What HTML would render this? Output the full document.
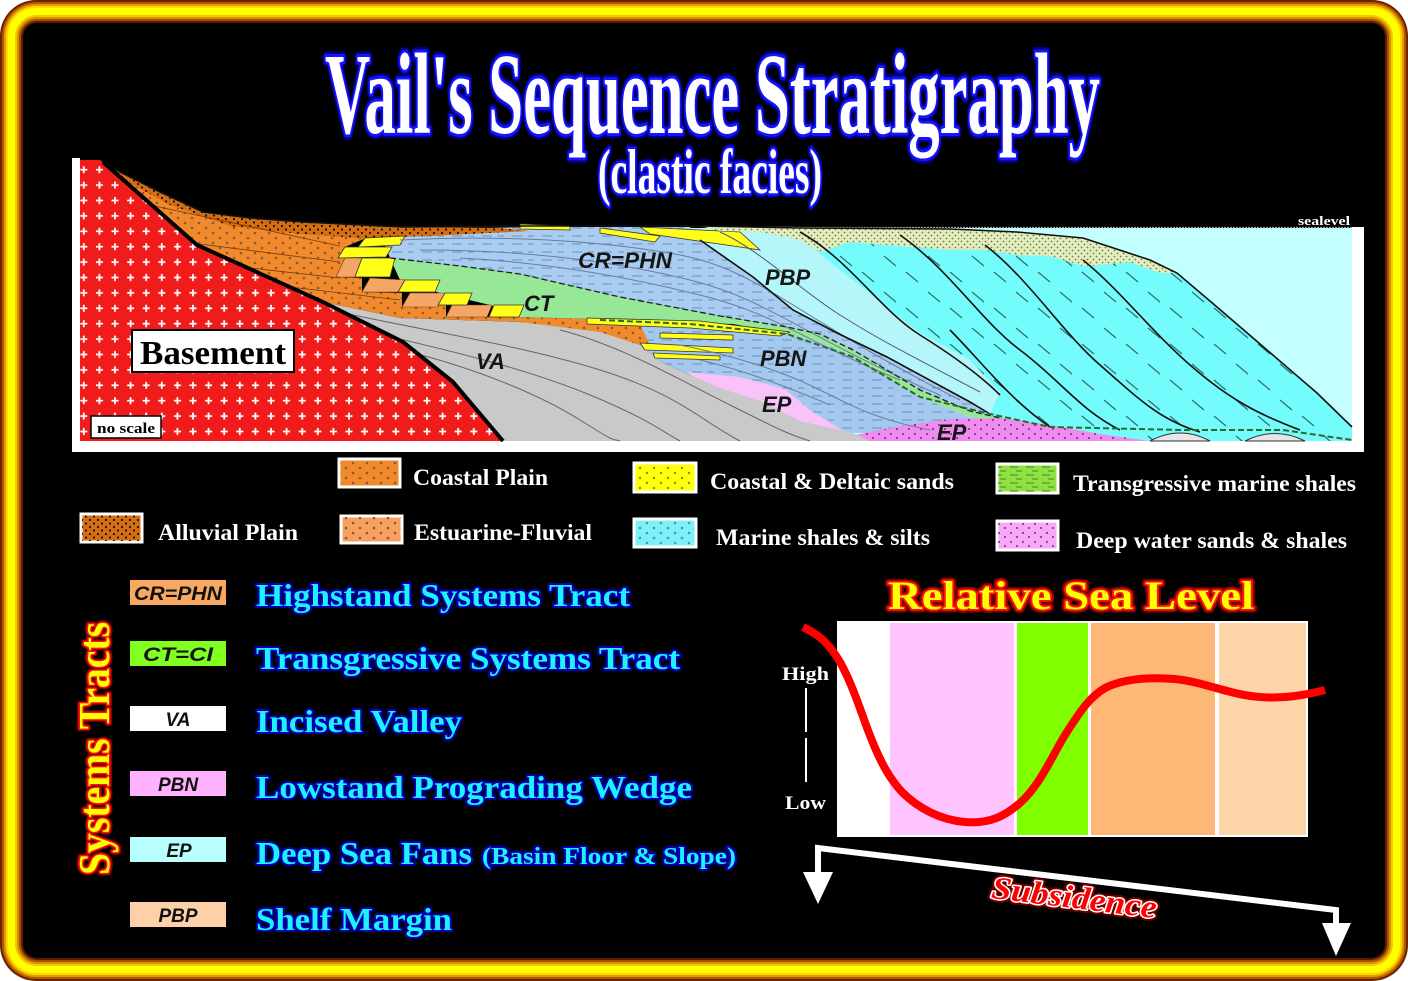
<!DOCTYPE html>
<html><head><meta charset="utf-8">
<style>
html,body{margin:0;padding:0;background:#fff;width:1408px;height:981px;overflow:hidden}
svg{display:block}
</style></head><body>
<svg width="1408" height="981" viewBox="0 0 1408 981" xmlns="http://www.w3.org/2000/svg">
<defs>
<pattern id="plus" patternUnits="userSpaceOnUse" x="76" y="162" width="15.6" height="15.4">
 <path d="M7.8 4.2v7M4.3 7.7h7" stroke="#fff" stroke-width="1.8"/>
</pattern>
<pattern id="dk" patternUnits="userSpaceOnUse" width="8" height="7">
 <circle cx="2" cy="2" r="1.1" fill="#201000"/><circle cx="6" cy="5.5" r="1.1" fill="#201000"/>
</pattern>
<pattern id="dg" patternUnits="userSpaceOnUse" width="14" height="10">
 <circle cx="3" cy="3" r="1.3" fill="#8a5a30"/><circle cx="10" cy="8" r="1.3" fill="#8a5a30"/>
</pattern>
<pattern id="sd" patternUnits="userSpaceOnUse" width="6" height="6">
 <circle cx="1.5" cy="1.5" r="0.9" fill="#707850"/><circle cx="4.5" cy="4.5" r="0.9" fill="#707850"/>
</pattern>
<pattern id="cd" patternUnits="userSpaceOnUse" width="44" height="36">
 <path d="M4 4l12 10M26 20l12 10" stroke="#2d7070" stroke-width="1.2"/>
</pattern>
<pattern id="bl" patternUnits="userSpaceOnUse" width="30" height="8">
 <path d="M2 4h10M18 4h6" stroke="#6f8fb0" stroke-width="1"/>
</pattern>
<pattern id="gd" patternUnits="userSpaceOnUse" width="16" height="8">
 <path d="M2 3h8M8 7h6" stroke="#4a9a30" stroke-width="1.2"/>
</pattern>
<pattern id="pd" patternUnits="userSpaceOnUse" width="12" height="9">
 <circle cx="3" cy="2" r="1" fill="#6a306a"/><circle cx="9" cy="6" r="1" fill="#6a306a"/>
</pattern>
<pattern id="yd" patternUnits="userSpaceOnUse" width="14" height="10">
 <circle cx="3" cy="3" r="1.2" fill="#909000"/><circle cx="10" cy="8" r="1.2" fill="#909000"/>
</pattern>
<pattern id="cyd" patternUnits="userSpaceOnUse" width="14" height="10">
 <circle cx="3" cy="3" r="1.3" fill="#40a0a8"/><circle cx="10" cy="8" r="1.3" fill="#40a0a8"/>
</pattern>
</defs>

<!-- frame -->
<rect x="0" y="0" width="1408" height="981" rx="36" fill="#6a2400"/>
<rect x="2" y="2" width="1404" height="977" rx="34" fill="#b45800"/>
<rect x="4" y="4" width="1400" height="973" rx="32" fill="#e09c00"/>
<rect x="6" y="6" width="1396" height="969" rx="30" fill="#ffd800"/>
<rect x="8" y="8" width="1392" height="965" rx="28" fill="#ffff00"/>
<rect x="15" y="15" width="1378" height="951" rx="22" fill="#f0c800"/>
<rect x="17" y="17" width="1374" height="947" rx="20" fill="#d89000"/>
<rect x="19" y="19" width="1370" height="943" rx="18" fill="#a85000"/>
<rect x="21" y="21" width="1366" height="939" rx="16" fill="#5a1c00"/>
<rect x="23" y="23" width="1362" height="935" rx="14" fill="#000"/>

<!-- title -->
<g font-family="'Liberation Serif', serif" font-weight="bold">
<text x="325" y="133" font-size="115" textLength="775" lengthAdjust="spacingAndGlyphs" fill="#000080" stroke="#000080" stroke-width="11" stroke-linejoin="round">Vail's Sequence Stratigraphy</text>
<text x="325" y="133" font-size="115" textLength="775" lengthAdjust="spacingAndGlyphs" fill="#fff" stroke="#1414ff" stroke-width="6" stroke-linejoin="round" paint-order="stroke">Vail's Sequence Stratigraphy</text>
<text x="598" y="193" font-size="64" textLength="224" lengthAdjust="spacingAndGlyphs" fill="#000080" stroke="#000080" stroke-width="9" stroke-linejoin="round">(clastic facies)</text>
<text x="598" y="193" font-size="64" textLength="224" lengthAdjust="spacingAndGlyphs" fill="#fff" stroke="#1414ff" stroke-width="5" stroke-linejoin="round" paint-order="stroke">(clastic facies)</text>
</g>

<!-- cross-section frame -->
<polygon points="72,158 80,158 80,441 1352,441 1352,227 1364,227 1364,452 72,452" fill="#fff"/>
<line x1="780" y1="227.5" x2="1352" y2="227.5" stroke="#9a9a9a" stroke-width="1.2" stroke-dasharray="2 1"/>
<text x="1298" y="225" font-family="'Liberation Serif', serif" font-weight="bold" font-size="13" fill="#fff" textLength="52" lengthAdjust="spacingAndGlyphs">sealevel</text>

<!-- sea -->
<rect x="760" y="228" width="592" height="213" fill="#c4ffff"/>
<!-- cyan body -->
<polygon points="780,228 950,229 1017,232 1083,238 1150,260 1177,273 1217,307 1267,350 1317,393 1352,427 1352,441 985,441 970,412 920,390 870,350 830,300 800,255" fill="#74fbfb"/>
<polygon points="780,228 950,229 1017,232 1083,238 1150,260 1177,273 1217,307 1267,350 1317,393 1352,427 1352,441 985,441 970,412 920,390 870,350 830,300 800,255" fill="url(#cd)"/>
<!-- PBP light -->
<polygon points="690,228 800,228 815,250 853,280 890,310 920,333 970,360 1000,392 990,414 970,407 920,386 887,357 837,333 793,310 753,277 705,245" fill="#b4f6fa"/>
<!-- CR=PHN -->
<polygon points="380,232 450,229 530,227 690,227 705,245 753,277 793,310 837,333 887,357 970,402 990,414 970,411 920,390 887,370 853,350 820,334 787,327 720,316 620,297 520,274 460,266 390,258" fill="#a9cdf2"/>
<polygon points="380,232 450,229 530,227 690,227 705,245 753,277 793,310 837,333 887,357 970,402 990,414 970,411 920,390 887,370 853,350 820,334 787,327 720,316 620,297 520,274 460,266 390,258" fill="url(#bl)"/>
<!-- Green CT -->
<polygon points="390,258 460,266 520,274 620,297 720,316 787,327 820,334 853,350 887,370 920,390 970,411 1000,418 1000,424 970,417 920,397 887,377 853,357 820,342 787,334 733,324 690,323 590,319 520,317 490,305 440,293 400,280" fill="#96e896"/>
<!-- PBN -->
<polygon points="600,320 690,324 733,325 787,334 820,342 853,357 887,377 920,397 970,417 1000,424 990,430 950,433 853,433 800,421 760,401 720,388 663,363 640,345 600,332" fill="#a3c9f1"/>
<polygon points="600,320 690,324 733,325 787,334 820,342 853,357 887,377 920,397 970,417 1000,424 990,430 950,433 853,433 800,421 760,401 720,388 663,363 640,345 600,332" fill="url(#bl)"/>
<!-- EP -->
<polygon points="687,372 740,377 785,389 810,410 848,434 800,430 750,410 710,390" fill="#f9c3f9"/>
<polygon points="845,437 900,426 950,419 1000,418 1050,425 1100,434 1150,441 845,441" fill="#f08cf0"/>
<polygon points="845,437 900,426 950,419 1000,418 1050,425 1100,434 1150,441 845,441" fill="url(#pd)"/>
<path d="M1150 441 Q1180 425 1210 441Z M1245 441 Q1275 426 1305 441Z" fill="#e6e6e6" stroke="#333" stroke-width="1"/>
<!-- Gray -->
<polygon points="323,302 400,318 520,322 600,330 640,345 663,363 720,388 760,401 800,421 853,433 870,441 503,441 453,382 403,342" fill="#c9c9c9"/>
<g fill="none" stroke="#666" stroke-width="1">
<path d="M330 310 C420 330,520 345,600 370 S700 420,740 441"/>
<path d="M360 330 C450 350,530 370,590 395 S660 430,680 441"/>
<path d="M410 352 C480 370,540 395,580 420 S610 438,620 441"/>
<path d="M560 330 C620 345,680 380,730 405 S790 435,810 441"/>
</g>
<!-- Orange wedge -->
<polygon points="100,160 120,172 160,192 203,212 250,218 303,222 403,227 450,229 380,232 345,247 338,258 345,258 336,277 362,278 362,292 402,293 402,307 446,305 446,317 520,317 590,319 640,324 650,345 640,345 600,332 520,322 400,318 323,302 197,245 110,168" fill="#f08a2c"/>
<polygon points="100,160 120,172 160,192 203,212 250,218 303,222 403,227 450,229 380,232 345,247 338,258 345,258 336,277 362,278 362,292 402,293 402,307 446,305 446,317 520,317 590,319 640,324 650,345 640,345 600,332 520,322 400,318 323,302 197,245 110,168" fill="url(#dg)"/>
<polygon points="100,160 120,172 160,192 203,212 250,218 303,222 403,227 500,228 530,231 430,236 360,238 300,234 230,226 170,205 120,178" fill="#d46e14"/>
<polygon points="100,160 120,172 160,192 203,212 250,218 303,222 403,227 500,228 530,231 430,236 360,238 300,234 230,226 170,205 120,178" fill="url(#dk)"/>
<g fill="none" stroke="#7a3a08" stroke-width="0.8">
<path d="M200 244 L340 262"/><path d="M250 268 L340 278"/><path d="M290 287 L400 300"/><path d="M150 205 L340 246"/>
</g>
<!-- estuarine -->
<g fill="#f4a765" stroke="#7a3a08" stroke-width="0.6">
<polygon points="345,258 362,258 355,277 336,277"/><polygon points="370,278 405,280 398,292 362,292"/>
<polygon points="410,293 445,293 438,307 402,307"/><polygon points="452,305 492,305 487,317 446,317"/>
</g>
<!-- yellow -->
<g fill="#ffff1a" stroke="#333" stroke-width="0.8">
<polygon points="365,238 405,236 400,245 358,247"/><polygon points="345,247 392,247 386,257 338,258"/>
<polygon points="362,258 395,258 390,277 355,277"/><polygon points="405,280 440,280 435,292 398,292"/>
<polygon points="445,293 472,293 467,305 438,305"/><polygon points="494,305 524,305 519,317 489,317"/>
<polygon points="587,318 700,321 790,332 780,336 690,328 587,324"/>
<polygon points="660,333 733,335 733,340 660,338"/><polygon points="640,343 733,348 733,353 645,350"/>
<polygon points="653,353 720,356 720,360 655,358"/>
<polygon points="520,224 570,226 570,230 520,229"/><polygon points="600,228 660,236 655,242 600,233"/>
<polygon points="640,227 740,232 760,250 740,247 650,234"/>
</g>
<!-- topsets -->
<polygon points="700,226 800,227 950,228 1017,232 1083,238 1150,260 1177,273 1160,273 1130,262 1100,265 1083,266 1050,256 1017,255 985,250 950,250 900,246 850,242 820,252 800,240 760,232 720,231" fill="#e3eebd"/>
<polygon points="700,226 800,227 950,228 1017,232 1083,238 1150,260 1177,273 1160,273 1130,262 1100,265 1083,266 1050,256 1017,255 985,250 950,250 900,246 850,242 820,252 800,240 760,232 720,231" fill="url(#sd)"/>

<!-- lines -->
<g fill="none" stroke="#6a7e98" stroke-width="1">
<path d="M400 240 C500 235,600 240,680 255 S800 320,960 400"/>
<path d="M420 250 C520 250,610 260,690 280 S800 335,940 395"/>
<path d="M460 258 C540 262,620 275,700 295 S800 340,900 380"/>
<path d="M680 345 C730 355,780 370,820 390 S880 420,930 430"/>
<path d="M700 360 C750 372,790 388,830 405"/>
<path d="M720 232 C760 250,800 290,840 315 S900 350,980 392" stroke="#557"/>
</g>
<g fill="none" stroke="#111" stroke-width="1.6">
<path d="M700 240 L753 277 L793 310 L837 333 L887 357 L970 402 L990 414"/>
<path d="M800 232 C850 260,880 310,920 335 S985 380,1000 395"/>
<path d="M900 235 C950 270,980 320,1020 350 S1080 410,1120 430"/>
<path d="M985 245 C1030 280,1060 330,1100 365 S1160 420,1200 432"/>
<path d="M1083 260 C1120 290,1150 330,1190 365 S1260 415,1300 430"/>
<path d="M950 330 C980 360,1010 400,1050 427"/>
<path d="M100 160 L120 172 L160 192 L203 212 L250 218 L303 222 L403 227 L530 226 L700 226 L800 228 L950 229 L1017 232 L1083 238 L1150 260 L1177 273 L1217 307 L1267 350 L1317 393 L1352 427"/>
</g>
<path d="M390 258 L460 266 L520 274 L620 297 L720 316 L787 327 L820 334 L853 350 L887 370 L920 390 L970 411 L1000 418" fill="none" stroke="#222" stroke-width="1.3" stroke-dasharray="6 3"/>
<path d="M600 320 L690 324 L787 334 L853 357 L920 397 L990 414 L1050 427 L1183 430 L1283 430 L1352 440" fill="none" stroke="#2a6a2a" stroke-width="2" stroke-dasharray="6 3"/>

<!-- basement -->
<polygon points="80,160 100,160 110,168 197,245 323,302 403,342 453,382 503,441 80,441" fill="#f01c1c"/>
<polygon points="80,160 100,160 110,168 197,245 323,302 403,342 453,382 503,441 80,441" fill="url(#plus)"/>
<polyline points="103,162 197,245 323,302 403,342 453,382 503,441" fill="none" stroke="#000" stroke-width="4"/>
<rect x="132" y="330" width="162" height="42" fill="#fff" stroke="#000" stroke-width="2"/>
<text x="140" y="364" font-family="'Liberation Serif', serif" font-weight="bold" font-size="34" textLength="146" lengthAdjust="spacingAndGlyphs" fill="#000">Basement</text>
<rect x="91" y="416" width="70" height="22" fill="#fff" stroke="#000" stroke-width="1.5"/>
<text x="97" y="433" font-family="'Liberation Serif', serif" font-weight="bold" font-size="15" textLength="58" lengthAdjust="spacingAndGlyphs" fill="#000">no scale</text>

<!-- section labels -->
<g font-family="'Liberation Sans', sans-serif" font-weight="bold" font-style="italic" font-size="22" fill="#151515">
<text x="578" y="268" textLength="94" lengthAdjust="spacingAndGlyphs">CR=PHN</text>
<text x="765" y="285">PBP</text>
<text x="524" y="311">CT</text>
<text x="476" y="369">VA</text>
<text x="760" y="366">PBN</text>
<text x="762" y="412">EP</text>
<text x="937" y="440">EP</text>
</g>

<!-- facies legend -->
<g stroke="#fff" stroke-width="3">
<rect x="339" y="459" width="61" height="28" fill="#f08a2c"/>
<rect x="634" y="463" width="62" height="29" fill="#ffff10"/>
<rect x="997" y="464" width="61" height="29" fill="#90e040"/>
<rect x="81" y="514" width="61" height="28" fill="#d46e14"/>
<rect x="341" y="516" width="61" height="27" fill="#f8a060"/>
<rect x="634" y="519" width="62" height="28" fill="#80f0f8"/>
<rect x="997" y="521" width="61" height="29" fill="#f8a8f8"/>
</g>
<rect x="340" y="460" width="59" height="26" fill="url(#dg)"/>
<rect x="635" y="464" width="60" height="27" fill="url(#yd)"/>
<rect x="998" y="465" width="59" height="27" fill="url(#gd)"/>
<rect x="82" y="515" width="59" height="26" fill="url(#dk)"/>
<rect x="342" y="517" width="59" height="25" fill="url(#dg)"/>
<rect x="635" y="520" width="60" height="26" fill="url(#cyd)"/>
<rect x="998" y="522" width="59" height="27" fill="url(#pd)"/>
<g font-family="'Liberation Serif', serif" font-weight="bold" font-size="23" fill="#fff">
<text x="413" y="485" textLength="135" lengthAdjust="spacingAndGlyphs">Coastal Plain</text>
<text x="710" y="489" textLength="244" lengthAdjust="spacingAndGlyphs">Coastal &amp; Deltaic sands</text>
<text x="1073" y="491" textLength="283" lengthAdjust="spacingAndGlyphs">Transgressive marine shales</text>
<text x="158" y="540" textLength="140" lengthAdjust="spacingAndGlyphs">Alluvial Plain</text>
<text x="414" y="540" textLength="178" lengthAdjust="spacingAndGlyphs">Estuarine-Fluvial</text>
<text x="716" y="545" textLength="214" lengthAdjust="spacingAndGlyphs">Marine shales &amp; silts</text>
<text x="1076" y="548" textLength="271" lengthAdjust="spacingAndGlyphs">Deep water sands &amp; shales</text>
</g>

<!-- Systems tracts -->
<g transform="translate(109,875) rotate(-90)" font-family="'Liberation Serif', serif" font-weight="bold" font-size="44">
<text x="0" y="0" textLength="253" lengthAdjust="spacingAndGlyphs" fill="#800000" stroke="#800000" stroke-width="6" stroke-linejoin="round">Systems Tracts</text>
<text x="0" y="0" textLength="253" lengthAdjust="spacingAndGlyphs" fill="#ffff00" stroke="#ff1010" stroke-width="3" stroke-linejoin="round" paint-order="stroke">Systems Tracts</text>
</g>
<rect x="130" y="580" width="96" height="25" fill="#f8a860"/>
<rect x="130" y="641" width="96" height="25" fill="#80ff20"/>
<rect x="130" y="706" width="96" height="25" fill="#fff"/>
<rect x="130" y="771" width="96" height="25" fill="#ffb0ff"/>
<rect x="130" y="837" width="96" height="25" fill="#b8ffff"/>
<rect x="130" y="902" width="96" height="25" fill="#fcd0a8"/>
<g font-family="'Liberation Sans', sans-serif" font-weight="bold" font-style="italic" font-size="19" fill="#111" text-anchor="middle">
<text x="178" y="600" textLength="88" lengthAdjust="spacingAndGlyphs">CR=PHN</text>
<text x="178" y="661" textLength="70" lengthAdjust="spacingAndGlyphs">CT=CI</text>
<text x="178" y="726">VA</text>
<text x="178" y="791">PBN</text>
<text x="179" y="857">EP</text>
<text x="178" y="922">PBP</text>
</g>
<g font-family="'Liberation Serif', serif" font-weight="bold" fill="#1ef2ff" stroke="#0000b0" stroke-width="4" stroke-linejoin="round" paint-order="stroke">
<text x="256" y="606" font-size="32" textLength="374" lengthAdjust="spacingAndGlyphs">Highstand Systems Tract</text>
<text x="256" y="669" font-size="32" textLength="424" lengthAdjust="spacingAndGlyphs">Transgressive Systems Tract</text>
<text x="256" y="732" font-size="32" textLength="206" lengthAdjust="spacingAndGlyphs">Incised Valley</text>
<text x="256" y="798" font-size="32" textLength="436" lengthAdjust="spacingAndGlyphs">Lowstand Prograding Wedge</text>
<text x="256" y="864" font-size="32" textLength="216" lengthAdjust="spacingAndGlyphs">Deep Sea Fans</text>
<text x="482" y="864" font-size="24" textLength="254" lengthAdjust="spacingAndGlyphs">(Basin Floor &amp; Slope)</text>
<text x="256" y="930" font-size="32" textLength="196" lengthAdjust="spacingAndGlyphs">Shelf Margin</text>
</g>

<!-- Relative sea level -->
<g font-family="'Liberation Serif', serif" font-weight="bold" font-size="40">
<text x="888" y="609" textLength="366" lengthAdjust="spacingAndGlyphs" fill="#800000" stroke="#800000" stroke-width="7" stroke-linejoin="round">Relative Sea Level</text>
<text x="888" y="609" textLength="366" lengthAdjust="spacingAndGlyphs" fill="#ffff00" stroke="#ff1010" stroke-width="3.5" stroke-linejoin="round" paint-order="stroke">Relative Sea Level</text>
</g>
<rect x="837" y="621" width="471" height="216" fill="#fff"/>
<rect x="890" y="623" width="124" height="212" fill="#ffc4ff"/>
<rect x="1017" y="623" width="71" height="212" fill="#80ff00"/>
<rect x="1091" y="623" width="124" height="212" fill="#fdb878"/>
<rect x="1219" y="623" width="87" height="212" fill="#fdd5a8"/>
<path d="M803 627 C820 635,830 645,840 662 C850 680,857 700,866 725 C876 752,886 775,902 792 C918 808,940 820,965 822 C990 824,1005 816,1020 803 C1040 785,1050 760,1065 735 C1078 715,1088 698,1105 688 C1125 678,1150 677,1175 679 C1205 682,1230 695,1260 697 C1285 699,1305 695,1325 690" fill="none" stroke="#ff0000" stroke-width="8" stroke-linecap="butt"/>
<g font-family="'Liberation Serif', serif" font-weight="bold" font-size="19" fill="#fff">
<text x="782" y="680" textLength="47" lengthAdjust="spacingAndGlyphs">High</text>
<text x="785" y="809" textLength="41" lengthAdjust="spacingAndGlyphs">Low</text>
</g>
<line x1="806" y1="688" x2="806" y2="732" stroke="#fff" stroke-width="2"/>
<line x1="806" y1="738" x2="806" y2="782" stroke="#fff" stroke-width="2"/>

<!-- subsidence -->
<polyline points="818,875 818,848 1336,910 1336,925" fill="none" stroke="#fff" stroke-width="6" stroke-linejoin="miter"/>
<polygon points="803,872 833,872 818,904" fill="#fff"/>
<polygon points="1322,923 1351,923 1336,956" fill="#fff"/>
<g transform="translate(1073,908) rotate(7)" font-family="'Liberation Serif', serif" font-weight="bold" font-style="italic" font-size="32" text-anchor="middle">
<text x="0" y="0" textLength="166" lengthAdjust="spacingAndGlyphs" fill="#600" stroke="#600" stroke-width="7" stroke-linejoin="round">Subsidence</text>
<text x="0" y="0" textLength="166" lengthAdjust="spacingAndGlyphs" fill="#ff0000" stroke="#fff" stroke-width="3" stroke-linejoin="round" paint-order="stroke">Subsidence</text>
</g>
</svg>
</body></html>
